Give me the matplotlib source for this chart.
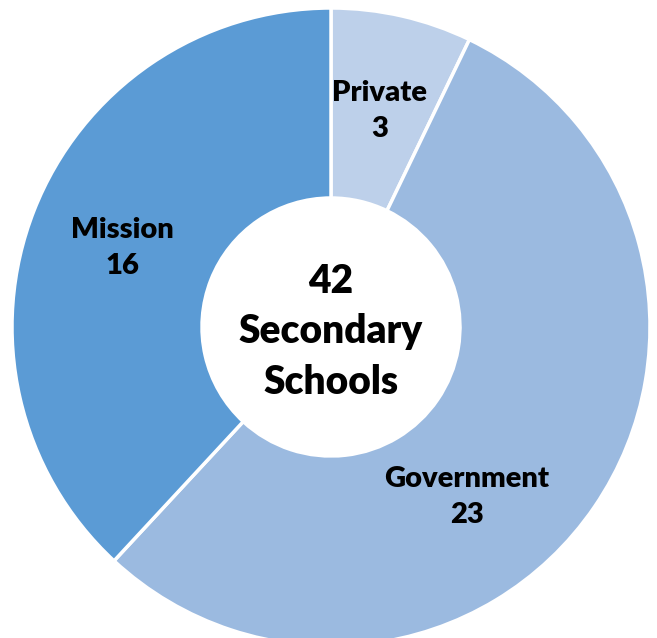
import matplotlib
matplotlib.use("Agg")
import matplotlib.pyplot as plt

plt.rcParams['font.family'] = ['Lato', 'DejaVu Sans']

# school counts by type
categories = ['Private', 'Government', 'Mission']
counts = [3, 23, 16]
colors = ['#BDD0EA', '#9BBAE0', '#5B9BD5']
total = sum(counts)

fig = plt.figure(figsize=(6.57, 6.38), dpi=100)
ax = fig.add_axes([0, 0, 1, 1])

cx, cy, r_out, r_in = 331, 311, 319, 129
wedges, _ = ax.pie(counts, colors=colors, startangle=90, counterclock=False,
                   center=(cx, cy), radius=r_out, frame=True,
                   wedgeprops=dict(width=r_out - r_in, edgecolor='white', linewidth=2.5))
ax.set_xlim(0, 657)
ax.set_ylim(0, 638)
ax.set_aspect('equal')
ax.axis('off')

# label positions inside each ring segment
label_pos = {'Private': (380, 527), 'Government': (467, 141), 'Mission': (122, 390)}
for name, n in zip(categories, counts):
    x, y = label_pos[name]
    ax.text(x, y, f"{name}\n{n}", ha='center', va='center', fontsize=21,
            fontweight='heavy', linespacing=1.45)

ax.text(cx, 306, f"{total}\nSecondary\nSchools", ha='center', va='center',
        fontsize=28, fontweight='heavy', linespacing=1.45)

fig.savefig('out.png', dpi=100)
